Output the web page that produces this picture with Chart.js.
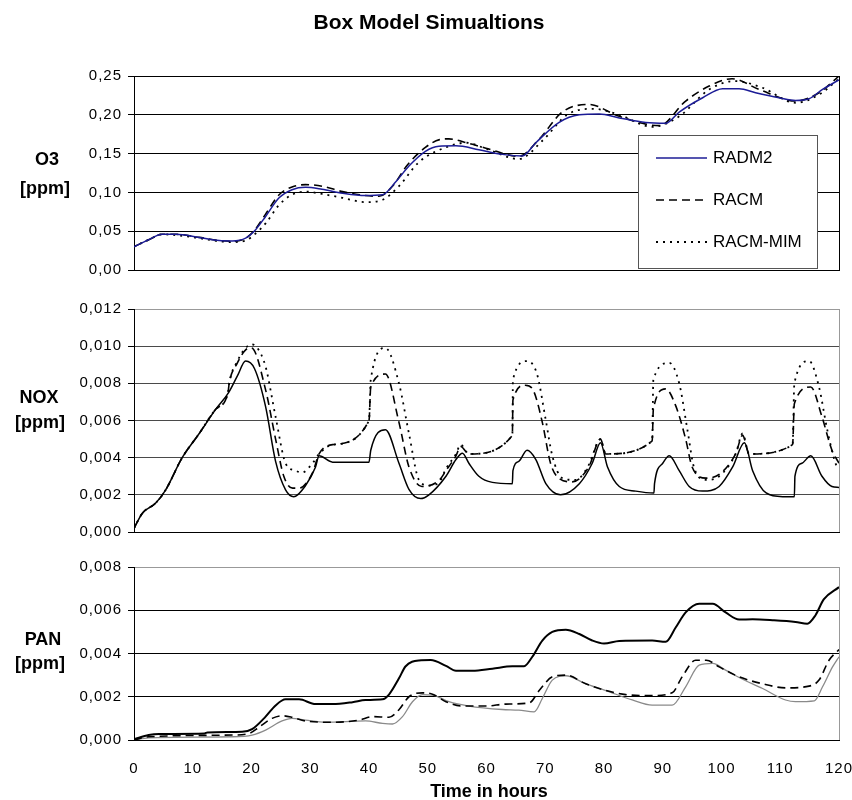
<!DOCTYPE html>
<html>
<head>
<meta charset="utf-8">
<title>Box Model Simualtions</title>
<script src="https://cdn.jsdelivr.net/npm/chart.js@4"></script>
<style>
  body { margin: 0; background: #fff; font-family: "Liberation Sans", Arial, sans-serif; }
  #page { position: relative; width: 852px; height: 800px; overflow: hidden; }
  #page canvas { position: absolute; left: 0; top: 0; }
  .t { position: absolute; transform: translate(-50%, -50%); line-height: 1; font-weight: bold; white-space: nowrap; color: #000; }
</style>
</head>
<body>
<div id="page">
  <canvas id="o3" width="852" height="800"></canvas>
  <canvas id="nox" width="852" height="800"></canvas>
  <canvas id="pan" width="852" height="800"></canvas>
  <div class="t" style="left:429px;top:21px;font-size:21px">Box Model Simualtions</div>
  <div class="t" style="left:47px;top:159px;font-size:18px">O3</div>
  <div class="t" style="left:45px;top:188px;font-size:18px">[ppm]</div>
  <div class="t" style="left:39px;top:397px;font-size:18px">NOX</div>
  <div class="t" style="left:40px;top:422px;font-size:18px">[ppm]</div>
  <div class="t" style="left:43px;top:639px;font-size:18px">PAN</div>
  <div class="t" style="left:40px;top:663px;font-size:18px">[ppm]</div>
  <div class="t" style="left:489px;top:791px;font-size:18px">Time in hours</div>
</div>
<script>
(function(){
  // --- data: [hour, ppm] ---
  const hourTicks = [0, 10, 20, 30, 40, 50, 60, 70, 80, 90, 100, 110, 120];
  const o3Ticks = [0, 0.05, 0.10, 0.15, 0.20, 0.25];
  const noxTicks = [0, 0.002, 0.004, 0.006, 0.008, 0.010, 0.012];
  const panTicks = [0, 0.002, 0.004, 0.006, 0.008];
  const seriesNames = ['RADM2', 'RACM', 'RACM-MIM'];

  const o3Radm2 = [[0,0.030],[2.5,0.039],[4.8,0.046],[7.1,0.046],[11.1,0.042],[14.5,0.038],[16.7,0.0375],[19,0.041],[20.7,0.052],[22.4,0.069],[24.7,0.093],[26.9,0.1035],[29.2,0.1065],[32,0.104],[35.5,0.099],[39.4,0.096],[42.3,0.097],[44.6,0.114],[46.8,0.134],[49.6,0.153],[51.9,0.1595],[54.8,0.160],[58.7,0.155],[62.7,0.149],[66.1,0.147],[68.4,0.164],[72.3,0.19],[75.8,0.20],[79.2,0.201],[82.6,0.196],[87.1,0.19],[90.5,0.189],[92.8,0.2035],[96.8,0.222],[100.2,0.2336],[103,0.2336],[105.8,0.2284],[109.8,0.222],[112.6,0.2185],[114.9,0.2207],[117.2,0.2327],[120,0.245]];
  const o3Racm = [[0,0.030],[2.5,0.039],[4.8,0.046],[7.1,0.046],[11.1,0.042],[14.5,0.038],[16.7,0.037],[19,0.041],[20.7,0.053],[22.4,0.072],[24.7,0.097],[26.9,0.107],[29.2,0.11],[32,0.108],[35.5,0.101],[39.4,0.096],[41.7,0.095],[44,0.108],[46.5,0.135],[49.6,0.158],[52,0.168],[53.6,0.169],[57,0.163],[59.9,0.157],[65.5,0.1465],[68.9,0.168],[72.9,0.2035],[77.4,0.2134],[82.6,0.198],[89.4,0.186],[93.9,0.2177],[97.9,0.237],[101.8,0.2465],[106.4,0.2327],[112.6,0.2177],[116.6,0.2284],[120,0.25]];
  const o3RacmMim = [[0,0.030],[2.5,0.039],[4.8,0.046],[7.1,0.045],[11.1,0.041],[14.5,0.037],[16.7,0.036],[19,0.038],[20.7,0.047],[22.4,0.060],[24.7,0.084],[26.9,0.097],[29.2,0.101],[32,0.098],[35.5,0.093],[39.4,0.0875],[42.3,0.0905],[45.1,0.108],[48.5,0.139],[53.6,0.1595],[56.5,0.164],[60,0.156],[65.5,0.143],[69.7,0.168],[73.7,0.20],[78.2,0.2077],[82.6,0.20],[88.2,0.1845],[92.8,0.198],[97.9,0.2327],[102.4,0.2435],[106.9,0.235],[112.6,0.2155],[116.6,0.226],[120,0.2465]];

  const noxRadm2 = [[0,0.0002],[1.4,0.001],[3.7,0.00156],[5.4,0.00227],[8.2,0.004],[11.1,0.0053],[13.9,0.0066],[16.1,0.0075],[17.6,0.0084],[19,0.0092],[20.5,0.0088],[22.4,0.00675],[24.1,0.0038],[25.8,0.00227],[27.2,0.0019],[29.2,0.0025],[30.9,0.0035],[31.5,0.0041],[33.8,0.00376],[40,0.00376],[40.3,0.0044],[42.8,0.0055],[45.1,0.0037],[46.8,0.0023],[48.8,0.0018],[50.2,0.002],[53.1,0.003],[54.8,0.0039],[55.9,0.00424],[57,0.0037],[58.7,0.003],[61,0.00267],[64.4,0.0026],[64.5,0.0033],[65.5,0.0038],[66.9,0.0044],[68.4,0.0039],[70.1,0.0026],[72.6,0.002],[75.8,0.0026],[78,0.0037],[79.4,0.0048],[80.6,0.0035],[82.6,0.00245],[85.4,0.0022],[88.5,0.0021],[88.6,0.0026],[90,0.0037],[91.1,0.0041],[92.8,0.0033],[94.5,0.00245],[96.8,0.0022],[99.6,0.00245],[101.9,0.0035],[103.9,0.0048],[105.3,0.0033],[107.6,0.0021],[110.4,0.0019],[112.4,0.0019],[112.5,0.003],[113.7,0.0037],[115.2,0.0041],[117.1,0.003],[118.8,0.00245],[120,0.0024]];
  const noxRacm = [[0,0.0002],[1.4,0.001],[3.7,0.00156],[5.4,0.00227],[8.2,0.004],[11.1,0.0053],[13.9,0.0066],[16,0.0075],[16.2,0.008],[17.6,0.0091],[19,0.0098],[20,0.0099],[22.4,0.00765],[24.1,0.005],[25.5,0.003],[27,0.00236],[28.1,0.00236],[30.4,0.0032],[31.5,0.0042],[33.8,0.0047],[40,0.006],[40.3,0.0078],[42.8,0.0085],[45.1,0.0059],[46.8,0.0035],[49,0.00245],[52,0.0028],[53.1,0.0033],[54.8,0.0041],[55.6,0.0046],[57,0.0042],[64.4,0.0052],[64.5,0.0071],[66.6,0.0079],[68,0.0076],[69.5,0.0059],[70.9,0.0037],[72.3,0.0029],[74.6,0.0027],[77.4,0.0035],[79.4,0.005],[80.3,0.0042],[88.2,0.0049],[88.4,0.0066],[90.5,0.0077],[92.2,0.0068],[93.9,0.005],[95,0.0035],[97.4,0.0029],[99.6,0.0031],[102.4,0.0042],[103.6,0.0052],[104.7,0.0042],[112.1,0.0047],[112.4,0.0069],[115.2,0.0078],[117.1,0.0062],[118.8,0.0044],[120,0.0037]];
  const noxRacmMim = [[0,0.0002],[1.4,0.001],[3.7,0.00156],[5.4,0.00227],[8.2,0.004],[11.1,0.0053],[13.9,0.0066],[16,0.0075],[16.2,0.008],[17.6,0.0092],[19,0.0099],[20,0.0101],[21,0.0099],[22.4,0.0089],[24.1,0.0062],[25.8,0.0037],[27.5,0.0033],[28.6,0.0032],[30.4,0.0037],[31.5,0.0042],[33.8,0.0047],[40,0.006],[40.3,0.0082],[42.8,0.0099],[45.1,0.008],[46.8,0.0053],[48.5,0.0028],[50.2,0.0025],[52,0.0027],[53.1,0.0034],[54.8,0.0042],[55.6,0.0047],[57,0.0042],[64.4,0.0052],[64.5,0.0082],[66.9,0.0092],[68.6,0.0085],[70.1,0.006],[71.2,0.0041],[72.9,0.0029],[75.2,0.0028],[77.4,0.0036],[79.4,0.005],[80.3,0.0042],[88.2,0.0049],[88.4,0.0082],[91.1,0.0091],[92.8,0.008],[94.2,0.0055],[95.3,0.0035],[97.4,0.0028],[99.6,0.003],[102.4,0.0042],[103.6,0.0053],[104.7,0.0042],[112.1,0.0047],[112.4,0.008],[114.9,0.0092],[116.6,0.0078],[118,0.0055],[119.4,0.0037],[120,0.0034]];

  const panRadm2 = [[0,0.00003],[2.5,0.00023],[4.3,0.00028],[12,0.0003],[12.5,0.00035],[18.4,0.00038],[20.1,0.0005],[22.4,0.00108],[24.1,0.0016],[25.8,0.00188],[28.1,0.00188],[30.9,0.00166],[33.8,0.00166],[37.2,0.00175],[39.4,0.00185],[42.3,0.00188],[43.4,0.0021],[45.1,0.00285],[46.2,0.0034],[48.5,0.00368],[50.5,0.0037],[53.1,0.00343],[54.8,0.0032],[57.6,0.0032],[61,0.0033],[64.4,0.00341],[66.4,0.00341],[67.8,0.00385],[69.5,0.0046],[71.2,0.005],[73.5,0.0051],[75.8,0.0049],[78,0.0046],[80,0.00446],[82.6,0.00458],[88.2,0.0046],[90.5,0.00454],[92.2,0.0052],[93.9,0.0059],[96.2,0.0063],[98.5,0.0063],[100.7,0.0059],[103,0.00557],[105.3,0.00558],[108.7,0.00554],[112.6,0.00546],[114.6,0.00538],[116,0.00577],[117.4,0.0065],[120,0.00707]];
  const panRacm = [[0,0],[2.5,0.00015],[16.7,0.00023],[19.6,0.0003],[21.3,0.0006],[23.5,0.001],[25.2,0.00112],[26.9,0.00105],[29.2,0.00088],[33.8,0.00082],[38.3,0.00092],[40.6,0.00108],[43.4,0.00105],[45.1,0.0014],[46.8,0.002],[49.1,0.00218],[50.8,0.00212],[53.1,0.00177],[55.9,0.00157],[59.9,0.00157],[63.3,0.00166],[67.3,0.00172],[69,0.0023],[71.2,0.00292],[73.5,0.003],[76.9,0.0026],[80.2,0.0023],[83.7,0.0021],[88.2,0.00205],[91.6,0.00218],[93.3,0.00292],[95.6,0.00369],[97.4,0.00369],[99.6,0.00338],[103,0.00292],[107,0.0026],[110.9,0.00241],[114.9,0.00249],[116.6,0.00277],[118.3,0.00369],[120,0.00418]];
  const panRacmMim = [[0,0],[2.5,0.0001],[16.7,0.00015],[20.1,0.00023],[22.4,0.00046],[25.2,0.00088],[26.9,0.001],[29.2,0.00092],[32.6,0.00082],[39.4,0.00088],[42.3,0.00077],[44,0.00074],[45.7,0.00108],[47.4,0.00177],[49.1,0.0021],[50.8,0.00208],[53.6,0.00177],[57,0.00157],[62.7,0.00141],[65.5,0.00138],[68.1,0.0013],[69.5,0.00192],[71.2,0.00277],[73.5,0.00297],[76.9,0.0026],[80.2,0.0023],[84.8,0.00185],[88.2,0.00161],[91.6,0.00161],[93.9,0.00246],[96.2,0.00346],[98.5,0.00354],[100.7,0.00323],[103,0.00289],[107,0.00238],[110.9,0.00185],[112.6,0.00177],[115.8,0.00181],[117.2,0.00246],[118.9,0.00338],[120,0.00385]];

  const DASH = [8, 5];
  const DOT = [2, 5];

  Chart.defaults.font.family = '"Liberation Sans", Arial, sans-serif';
  Chart.defaults.font.size = 15;
  Chart.defaults.color = '#000';

  const pts = arr => arr.map(([x, y]) => ({ x, y }));
  const fmt = d => v => Number(v).toFixed(d).replace('.', ',');

  function lineSet(label, data, color, width, dash) {
    return { label, data: pts(data), borderColor: color, borderWidth: width, borderDash: dash,
      pointRadius: 0, fill: false, cubicInterpolationMode: 'monotone' };
  }

  // right edge of the plot frame + wider tick text
  const frame = {
    id: 'frame',
    beforeDraw(chart) { chart.ctx.letterSpacing = '1px'; },
    beforeDatasetsDraw(chart, args, opts) {
      const { ctx, chartArea: a } = chart;
      const x = Math.round(a.right) + 0.5;
      ctx.save();
      ctx.strokeStyle = opts.color || '#000';
      ctx.lineWidth = 1;
      ctx.beginPath(); ctx.moveTo(x, a.top); ctx.lineTo(x, a.bottom); ctx.stroke();
      ctx.restore();
    }
  };

  // boxed legend inside the O3 panel
  const boxLegend = {
    id: 'boxLegend',
    afterDraw(chart, args, opts) {
      if (!opts.show) return;
      const { ctx, chartArea: a } = chart;
      const w = 179, h = 133;
      const x = Math.round(a.right - 22 - w), y = Math.round(a.top + 59);
      ctx.save();
      ctx.letterSpacing = '0px';
      ctx.fillStyle = '#fff';
      ctx.fillRect(x, y, w, h);
      ctx.strokeStyle = '#555'; ctx.lineWidth = 1;
      ctx.strokeRect(x + 0.5, y + 0.5, w, h);
      ctx.font = '17px "Liberation Sans", Arial, sans-serif';
      ctx.textBaseline = 'middle';
      chart.data.datasets.forEach((ds, i) => {
        const ry = y + 23 + i * 42;
        ctx.beginPath();
        ctx.setLineDash(ds.borderDash || []);
        ctx.strokeStyle = ds.borderColor; ctx.lineWidth = ds.borderWidth;
        ctx.moveTo(x + 18, ry); ctx.lineTo(x + 69, ry); ctx.stroke();
        ctx.setLineDash([]);
        ctx.fillStyle = '#000';
        ctx.fillText(ds.label, x + 75, ry);
      });
      ctx.restore();
    }
  };

  function makePanel(id, sets, yTicks, dec, box) {
    const yMax = yTicks[yTicks.length - 1];
    return new Chart(document.getElementById(id), {
      type: 'line',
      data: { datasets: sets },
      plugins: [frame, boxLegend],
      options: {
        responsive: false, animation: false, events: [], devicePixelRatio: 1,
        layout: { padding: { left: 0, right: 13, top: box.top, bottom: 800 - box.bottom - box.xh } },
        plugins: {
          legend: { display: false }, tooltip: { enabled: false },
          frame: { color: box.edge }, boxLegend: { show: !!box.legend }
        },
        scales: {
          x: {
            type: 'linear', min: 0, max: 120,
            afterBuildTicks: s => { s.ticks = hourTicks.map(v => ({ value: v })); },
            afterFit: s => { s.height = box.xh; s.paddingLeft = 0; s.paddingRight = 0; },
            ticks: { display: box.xh > 0, padding: 12, maxRotation: 0, autoSkip: false, font: { size: 15 } },
            grid: { display: false },
            border: { color: '#000', width: 1 }
          },
          y: {
            min: yTicks[0], max: yMax,
            afterBuildTicks: s => { s.ticks = yTicks.map(v => ({ value: v })); },
            afterFit: s => { s.width = 134; s.paddingTop = 0; s.paddingBottom = 0; },
            ticks: { callback: fmt(dec), padding: 6, font: { size: 15 } },
            grid: {
              color: c => (c.tick && Math.abs(c.tick.value - yMax) < 1e-9) ? box.edge : box.grid,
              tickColor: '#000', tickLength: 6, lineWidth: 1
            },
            border: { color: '#000', width: 1 }
          }
        }
      }
    });
  }

  makePanel('o3', [
    lineSet(seriesNames[0], o3Radm2, '#1c1c96', 1.5, []),
    lineSet(seriesNames[1], o3Racm, '#000', 1.6, DASH),
    lineSet(seriesNames[2], o3RacmMim, '#000', 1.8, DOT)
  ], o3Ticks, 2, { top: 76, bottom: 270, xh: 0, grid: '#000', edge: '#000', legend: true });

  makePanel('nox', [
    lineSet(seriesNames[0], noxRadm2, '#000', 1.5, []),
    lineSet(seriesNames[1], noxRacm, '#000', 1.6, DASH),
    lineSet(seriesNames[2], noxRacmMim, '#000', 1.8, DOT)
  ], noxTicks, 3, { top: 309, bottom: 532, xh: 0, grid: '#4a4a4a', edge: '#999' });

  makePanel('pan', [
    lineSet(seriesNames[0], panRadm2, '#000', 2, []),
    lineSet(seriesNames[1], panRacm, '#000', 1.6, DASH),
    lineSet(seriesNames[2], panRacmMim, '#8a8a8a', 1.3, [])
  ], panTicks, 3, { top: 567, bottom: 740, xh: 60, grid: '#000', edge: '#999' });
})();
</script>
</body>
</html>
